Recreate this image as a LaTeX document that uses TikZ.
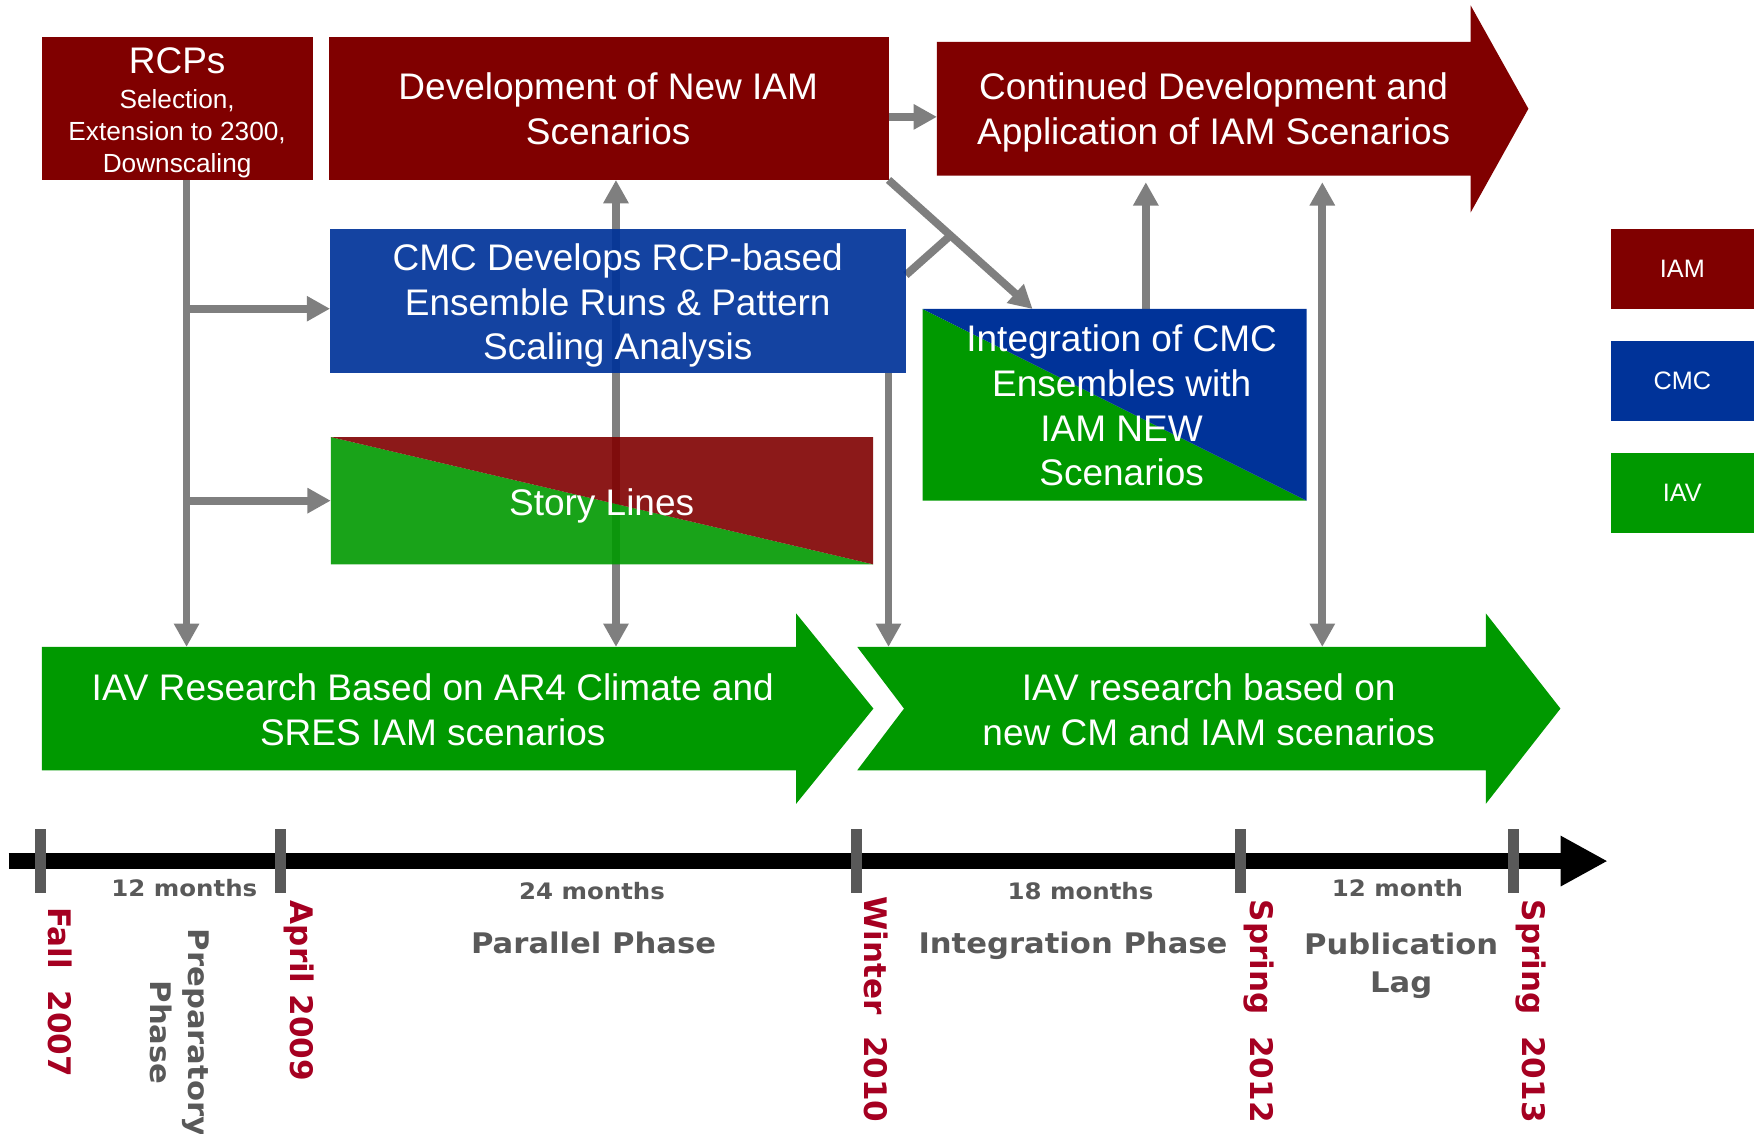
\documentclass[tikz,border=0pt]{standalone}
\usepackage{fontspec}
\setmainfont{Liberation Sans}
\newfontfamily\lblfont{DejaVu Sans Bold}[FakeStretch=1.08]
\newfontfamily\datefont{DejaVu Sans Bold}
\usetikzlibrary{arrows.meta,calc}
\pgfdeclarelayer{back}
\pgfsetlayers{back,main}

\definecolor{iamred}{HTML}{800000}
\definecolor{cmcblue}{HTML}{003399}
\definecolor{iavgreen}{HTML}{009900}
\definecolor{conngray}{HTML}{7F7F7F}
\definecolor{tickgray}{HTML}{595959}
\definecolor{datered}{HTML}{A50021}

\tikzset{
  box/.style={rectangle, inner sep=0pt, outer sep=0pt},
  conn/.style={draw=conngray, line width=3.5pt, -{Triangle[length=10.4pt,width=10.7pt]}},
  conntwo/.style={draw=conngray, line width=3.5pt, {Triangle[length=10.4pt,width=10.7pt]}-{Triangle[length=10.4pt,width=10.7pt]}},
  plainconn/.style={draw=conngray, line width=3.5pt},
  boxtext/.style={text=white, align=center, inner sep=0pt, font=\fontsize{16.5}{20}\selectfont},
  legend/.style={box, minimum width=63.9pt, minimum height=35.7pt, text=white, font=\fontsize{11.25}{13}\selectfont},
  tickmark/.style={box, fill=tickgray, minimum width=4.9pt, minimum height=28.5pt},
  months/.style={anchor=base, inner sep=0pt, text=tickgray, font={\lblfont\fontsize{10.1}{11}\selectfont}},
  phaselbl/.style={inner sep=0pt, text=tickgray, font={\lblfont\fontsize{12.65}{16.8}\selectfont}},
  datelbl/.style={rotate=-90, anchor=base west, inner sep=0pt, text=datered, font={\datefont\fontsize{13.85}{16}\selectfont}}
}

\begin{document}
\begin{tikzpicture}[x=0.5pt,y=-0.5pt]
\useasboundingbox (0,0) rectangle (1568,1011.4);

% ---- IAM boxes ----
\node[box, fill=iamred, minimum width=120.8pt, minimum height=63.75pt] (rcp) at (158.2,96.75) {};
\node[box, fill=iamred, minimum width=249.55pt, minimum height=63.75pt] (dev) at (542.95,96.75) {};

% continued development arrow (body node + arrow outline)
\node[box, minimum width=238pt, minimum height=59.7pt] (cont) at (1073.7,97) {};
\fill[iamred] (cont.north west) -- (cont.north east) -- ++(0,-32.5)
  -- ($(cont.east)+(51.5,0)$) -- ($(cont.south east)+(0,32.8)$)
  -- (cont.south east) -- (cont.south west) -- cycle;

% ---- CMC box ----
\node[box, fill=cmcblue, fill opacity=0.92, minimum width=256.8pt, minimum height=63.95pt] (cmc) at (551.2,268.45) {};

% ---- story lines (split IAV / IAM) ----
\node[box, minimum width=241.85pt, minimum height=56.75pt] (story) at (536.85,446.55) {};
\fill[iavgreen, fill opacity=0.9] (story.north west) -- (story.south east) -- (story.south west) -- cycle;
\fill[iamred, fill opacity=0.9] (story.north west) -- (story.north east) -- (story.south east) -- cycle;

% ---- integration box (split IAV / CMC) ----
\node[box, minimum width=171.25pt, minimum height=85.5pt] (integ) at (994.15,361.1) {};
\fill[iavgreen] (integ.north west) -- (integ.south east) -- (integ.south west) -- cycle;
\fill[cmcblue] (integ.north west) -- (integ.north east) -- (integ.south east) -- cycle;

% ---- IAV research arrows ----
\node[box, minimum width=336.3pt, minimum height=55pt] (iav1) at (373.7,632) {};
\fill[iavgreen] (iav1.north west) -- (iav1.north east) -- ++(0,-30)
  -- ($(iav1.east)+(69,0)$) -- ($(iav1.south east)+(0,30)$)
  -- (iav1.south east) -- (iav1.south west) -- cycle;
\node[box, minimum width=280.3pt, minimum height=55pt] (iav2) at (1044.9,632) {};
\fill[iavgreen] (iav2.north west) -- (iav2.north east) -- ++(0,-30)
  -- ($(iav2.east)+(66.6,0)$) -- ($(iav2.south east)+(0,30)$)
  -- (iav2.south east) -- (iav2.south west) -- ($(iav2.west)+(41.7,0)$) -- cycle;

% ---- texts ----
\node[boxtext, anchor=base] (rcp-t) at (158,66) {RCPs};
\node[boxtext, font=\fontsize{11.7}{14.25}\selectfont] (rcp-s) at (158,119.6) {Selection,\\Extension to 2300,\\Downscaling};
\node[boxtext] (dev-t) at (542.5,97.2) {Development of New IAM\\Scenarios};
\node[boxtext] (cont-t) at (1082.5,100.6) {Continued Development and\\Application of IAM Scenarios};
\node[boxtext] (cmc-t) at (551,272.5) {CMC Develops RCP-based\\Ensemble Runs \& Pattern\\Scaling Analysis};
\node[boxtext] (integ-t) at (1000.4,361.6) {Integration of CMC\\Ensembles with\\IAM NEW\\Scenarios};
\node[boxtext, anchor=base] (story-t) at (536.6,460) {Story Lines};
\node[boxtext] (iav1-t) at (386,632.8) {IAV Research Based on AR4 Climate and\\SRES IAM scenarios};
\node[boxtext] (iav2-t) at (1078,632.9) {IAV research based on\\new CM and IAM scenarios};

% ---- legend ----
\node[legend, fill=iamred] (leg-iam) at (1500.5,239.9) {IAM};
\node[legend, fill=cmcblue] (leg-cmc) at (1500.5,339.75) {CMC};
\node[legend, fill=iavgreen] (leg-iav) at (1500.5,439.65) {IAV};

% ---- connectors (behind the boxes) ----
\begin{pgfonlayer}{back}
\draw[conn] ($(rcp.south)+(8.2,0)$) coordinate (rv) -- (rv |- iav1.north);
\draw[conn] ($(rv |- cmc.west)+(0,6.9)$) coordinate (rb) -- (rb -| cmc.west);
\draw[conn] (rv |- story.west) -- (story.west);
\draw[conntwo] ($(dev.south)+(6.45,0)$) coordinate (dv) -- (dv |- iav1.north);
\draw[conn] (dev.east |- cmc.south) -- (dev.east |- iav2.north);
\draw[conn] (dev.south east) -- ($(integ.north west)+(98.1,0)$) coordinate (dtip);
\draw[plainconn] ($(cmc.east)+(0,-23.15)$) -- ($(dev.south east)!0.43!(dtip)$);
\draw[conn] ($(dev.east)+(0,7.5)$) coordinate (dc) -- (dc -| cont.west);
\draw[conn] ($(integ.north)+(27.85,0)$) coordinate (ic) -- ($(ic |- cont.south)+(0,5.8)$);
\draw[conntwo] ($(cont.south)+(105.7,5.8)$) coordinate (cv) -- (cv |- iav2.north);
\end{pgfonlayer}

% ---- timeline ----
\coordinate (tl0) at (7.7,768);
\coordinate (tl1) at (1434,768);
\draw[line width=7pt, -{Triangle[length=21pt,width=21pt]}] (tl0) -- (tl1);
\node[tickmark] (tk1) at (36.4,768) {};
\node[tickmark] (tk2) at (250.4,768) {};
\node[tickmark] (tk3) at (763.5,768) {};
\node[tickmark] (tk4) at (1106.8,768) {};
\node[tickmark] (tk5) at (1349.5,768) {};

\node[months] (m1) at (164.4,799.7) {12 months};
\node[months] (m2) at (528,802.7) {24 months};
\node[months] (m3) at (963.7,802.5) {18 months};
\node[months] (m4) at (1246.4,799.5) {12 month};

\node[phaselbl, rotate=-90, align=center] (ph1) at (160,921) {Preparatory\\Phase};
\node[phaselbl, anchor=base] (ph2) at (529.4,850.3) {Parallel Phase};
\node[phaselbl, anchor=base] (ph3) at (957,850.5) {Integration Phase};
\node[phaselbl, align=center] (ph4) at (1249.7,861.5) {Publication\\Lag};

\node[datelbl] (d1) at (43.1,809) {Fall\ \ 2007};
\node[datelbl] (d2) at (259.3,803) {April 2009};
\node[datelbl] (d3) at (771.5,799) {Winter\ \ 2010};
\node[datelbl] (d4) at (1114.9,802) {Spring\ \ 2012};
\node[datelbl] (d5) at (1357.8,802) {Spring\ \ 2013};
\end{tikzpicture}
\end{document}
